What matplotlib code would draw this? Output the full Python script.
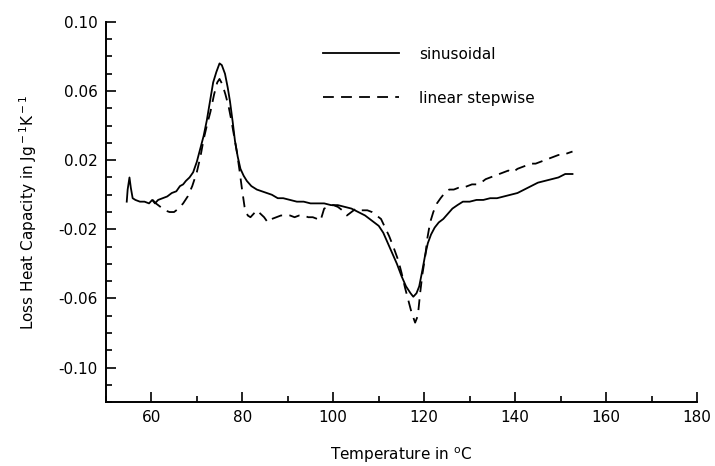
import matplotlib
matplotlib.use("Agg")
import matplotlib.pyplot as plt
from matplotlib.ticker import MultipleLocator

# sinusoidal temperature programme (solid)
t_sin = [54.6, 54.8, 55.2, 55.5, 55.9, 56.5, 57.5, 58.5, 59.5, 60.2, 60.8, 61.5,
         62.5, 63.5, 64.5, 65.5, 66.3, 67.0, 67.6, 68.4, 69.2, 70.0, 70.8, 71.5,
         72.2, 72.9, 73.6, 74.3, 75.0, 75.5, 76.2, 76.8, 77.3, 77.9, 78.4, 79.0,
         79.6, 80.3, 81.0, 82.0, 83.2, 84.3, 85.4, 86.5, 87.8, 89.0, 90.5, 92.0,
         93.5, 95.0, 96.5, 98.0, 99.5, 101.0, 102.5, 104.0, 105.5, 107.0, 108.5,
         110.0, 111.0, 112.0, 113.0, 114.0, 115.0, 116.0, 117.0, 117.6, 118.3,
         118.9, 119.5, 120.2, 120.8, 121.5, 122.3, 123.2, 124.2, 125.2, 126.2,
         127.3, 128.5, 130.0, 131.5, 133.0, 134.5, 136.0, 137.5, 139.0, 140.5,
         142.0, 143.5, 145.0, 146.5, 148.0, 149.5, 151.0, 152.6]
c_sin = [-0.004, 0.003, 0.010, 0.004, -0.002, -0.003, -0.004, -0.004, -0.005,
         -0.003, -0.005, -0.003, -0.002, -0.001, 0.001, 0.002, 0.005, 0.006,
         0.008, 0.010, 0.013, 0.019, 0.027, 0.034, 0.043, 0.054, 0.065, 0.071,
         0.076, 0.075, 0.070, 0.062, 0.054, 0.042, 0.031, 0.022, 0.015, 0.011,
         0.008, 0.005, 0.003, 0.002, 0.001, 0.000, -0.002, -0.002, -0.003,
         -0.004, -0.004, -0.005, -0.005, -0.005, -0.006, -0.006, -0.007, -0.008,
         -0.010, -0.012, -0.015, -0.018, -0.022, -0.028, -0.034, -0.040, -0.047,
         -0.053, -0.057, -0.059, -0.057, -0.053, -0.045, -0.035, -0.028, -0.023,
         -0.019, -0.016, -0.014, -0.011, -0.008, -0.006, -0.004, -0.004, -0.003,
         -0.003, -0.002, -0.002, -0.001, 0.000, 0.001, 0.003, 0.005, 0.007,
         0.008, 0.009, 0.010, 0.012, 0.012]

# linear stepwise programme (dashed)
t_lin = [60.3, 61.0, 62.0, 63.0, 64.0, 65.0, 66.0, 67.0, 68.0, 69.0, 70.0, 70.8,
         71.5, 72.3, 73.0, 73.8, 74.5, 75.0, 75.6, 76.3, 77.0, 77.6, 78.2, 78.8,
         79.4, 79.9, 80.5, 81.2, 81.8, 82.5, 83.2, 84.0, 84.8, 85.6, 86.5, 87.5,
         88.5, 89.5, 90.5, 91.5, 92.5, 93.5, 94.5, 95.5, 96.5, 97.2, 98.0, 99.0,
         100.0, 101.0, 102.0, 103.0, 104.0, 105.0, 106.0, 107.5, 108.5, 109.5,
         110.5, 111.4, 112.3, 113.2, 114.3, 115.0, 115.8, 116.5, 117.2, 118.0,
         118.6, 119.1, 119.6, 120.2, 120.7, 121.3, 122.0, 122.8, 123.6, 124.5,
         125.5, 126.5, 127.5, 128.5, 129.5, 130.5, 131.5, 132.5, 133.5, 134.5,
         135.5, 136.5, 137.5, 138.5, 139.5, 140.5, 141.5, 142.5, 143.5, 144.5,
         145.5, 146.5, 147.5, 148.5, 149.5, 150.5, 151.5, 152.6]
c_lin = [-0.003, -0.005, -0.007, -0.009, -0.010, -0.010, -0.008, -0.005, -0.001,
         0.005, 0.013, 0.022, 0.032, 0.041, 0.048, 0.058, 0.065, 0.067, 0.064,
         0.058, 0.051, 0.043, 0.034, 0.025, 0.014, 0.004, -0.007, -0.012,
         -0.013, -0.011, -0.009, -0.011, -0.013, -0.016, -0.014, -0.013, -0.012,
         -0.012, -0.012, -0.013, -0.012, -0.012, -0.013, -0.013, -0.014, -0.015,
         -0.008, -0.007, -0.006, -0.007, -0.009, -0.012, -0.010, -0.008, -0.009,
         -0.009, -0.010, -0.012, -0.014, -0.019, -0.024, -0.030, -0.038, -0.045,
         -0.054, -0.061, -0.068, -0.074, -0.070, -0.057, -0.046, -0.036, -0.025,
         -0.016, -0.010, -0.005, -0.002, 0.001, 0.003, 0.003, 0.004, 0.004,
         0.005, 0.006, 0.006, 0.007, 0.009, 0.010, 0.011, 0.012, 0.013, 0.014,
         0.013, 0.015, 0.016, 0.017, 0.018, 0.018, 0.019, 0.020, 0.021, 0.022,
         0.023, 0.023, 0.024, 0.025]

y_ticks = [-0.10, -0.06, -0.02, 0.02, 0.06, 0.10]
y_labels = ["-0.10", "-0.06", "-0.02", "0.02", "0.06", "0.10"]
x_ticks = [60, 80, 100, 120, 140, 160, 180]

plt.rcParams["font.family"] = "DejaVu Sans"
fig = plt.figure(figsize=(7.15, 4.66), dpi=100)
ax = fig.add_axes([0.148, 0.137, 0.827, 0.816])

ax.plot(t_sin, c_sin, color="black", lw=1.3, label="sinusoidal")
ax.plot(t_lin, c_lin, color="black", lw=1.3, dashes=(6, 4), label="linear stepwise")

ax.set_xlim(50, 180)
ax.set_ylim(-0.12, 0.10)
ax.set_xticks(x_ticks)
ax.set_yticks(y_ticks)
ax.set_yticklabels(y_labels)
ax.xaxis.set_minor_locator(MultipleLocator(10))
ax.yaxis.set_minor_locator(MultipleLocator(0.01))
ax.tick_params(which="both", direction="in", width=1.2, labelsize=11, pad=6)
ax.tick_params(which="major", length=7)
ax.tick_params(which="minor", length=4)
for s in ["top", "right"]:
    ax.spines[s].set_visible(False)
for s in ["left", "bottom"]:
    ax.spines[s].set_linewidth(1.4)

ax.set_xlabel("Temperature in $^{\\rm o}$C", fontsize=11, labelpad=14)
ax.set_ylabel("Loss Heat Capacity in Jg$^{\\rm -1}$K$^{\\rm -1}$", fontsize=11, labelpad=14)

ax.legend(frameon=False, loc="upper left", bbox_to_anchor=(0.367, 0.935),
          borderpad=0, borderaxespad=0, handlelength=5, handletextpad=1.3,
          labelspacing=1.9, fontsize=11)

fig.savefig("out.png", dpi=100)
